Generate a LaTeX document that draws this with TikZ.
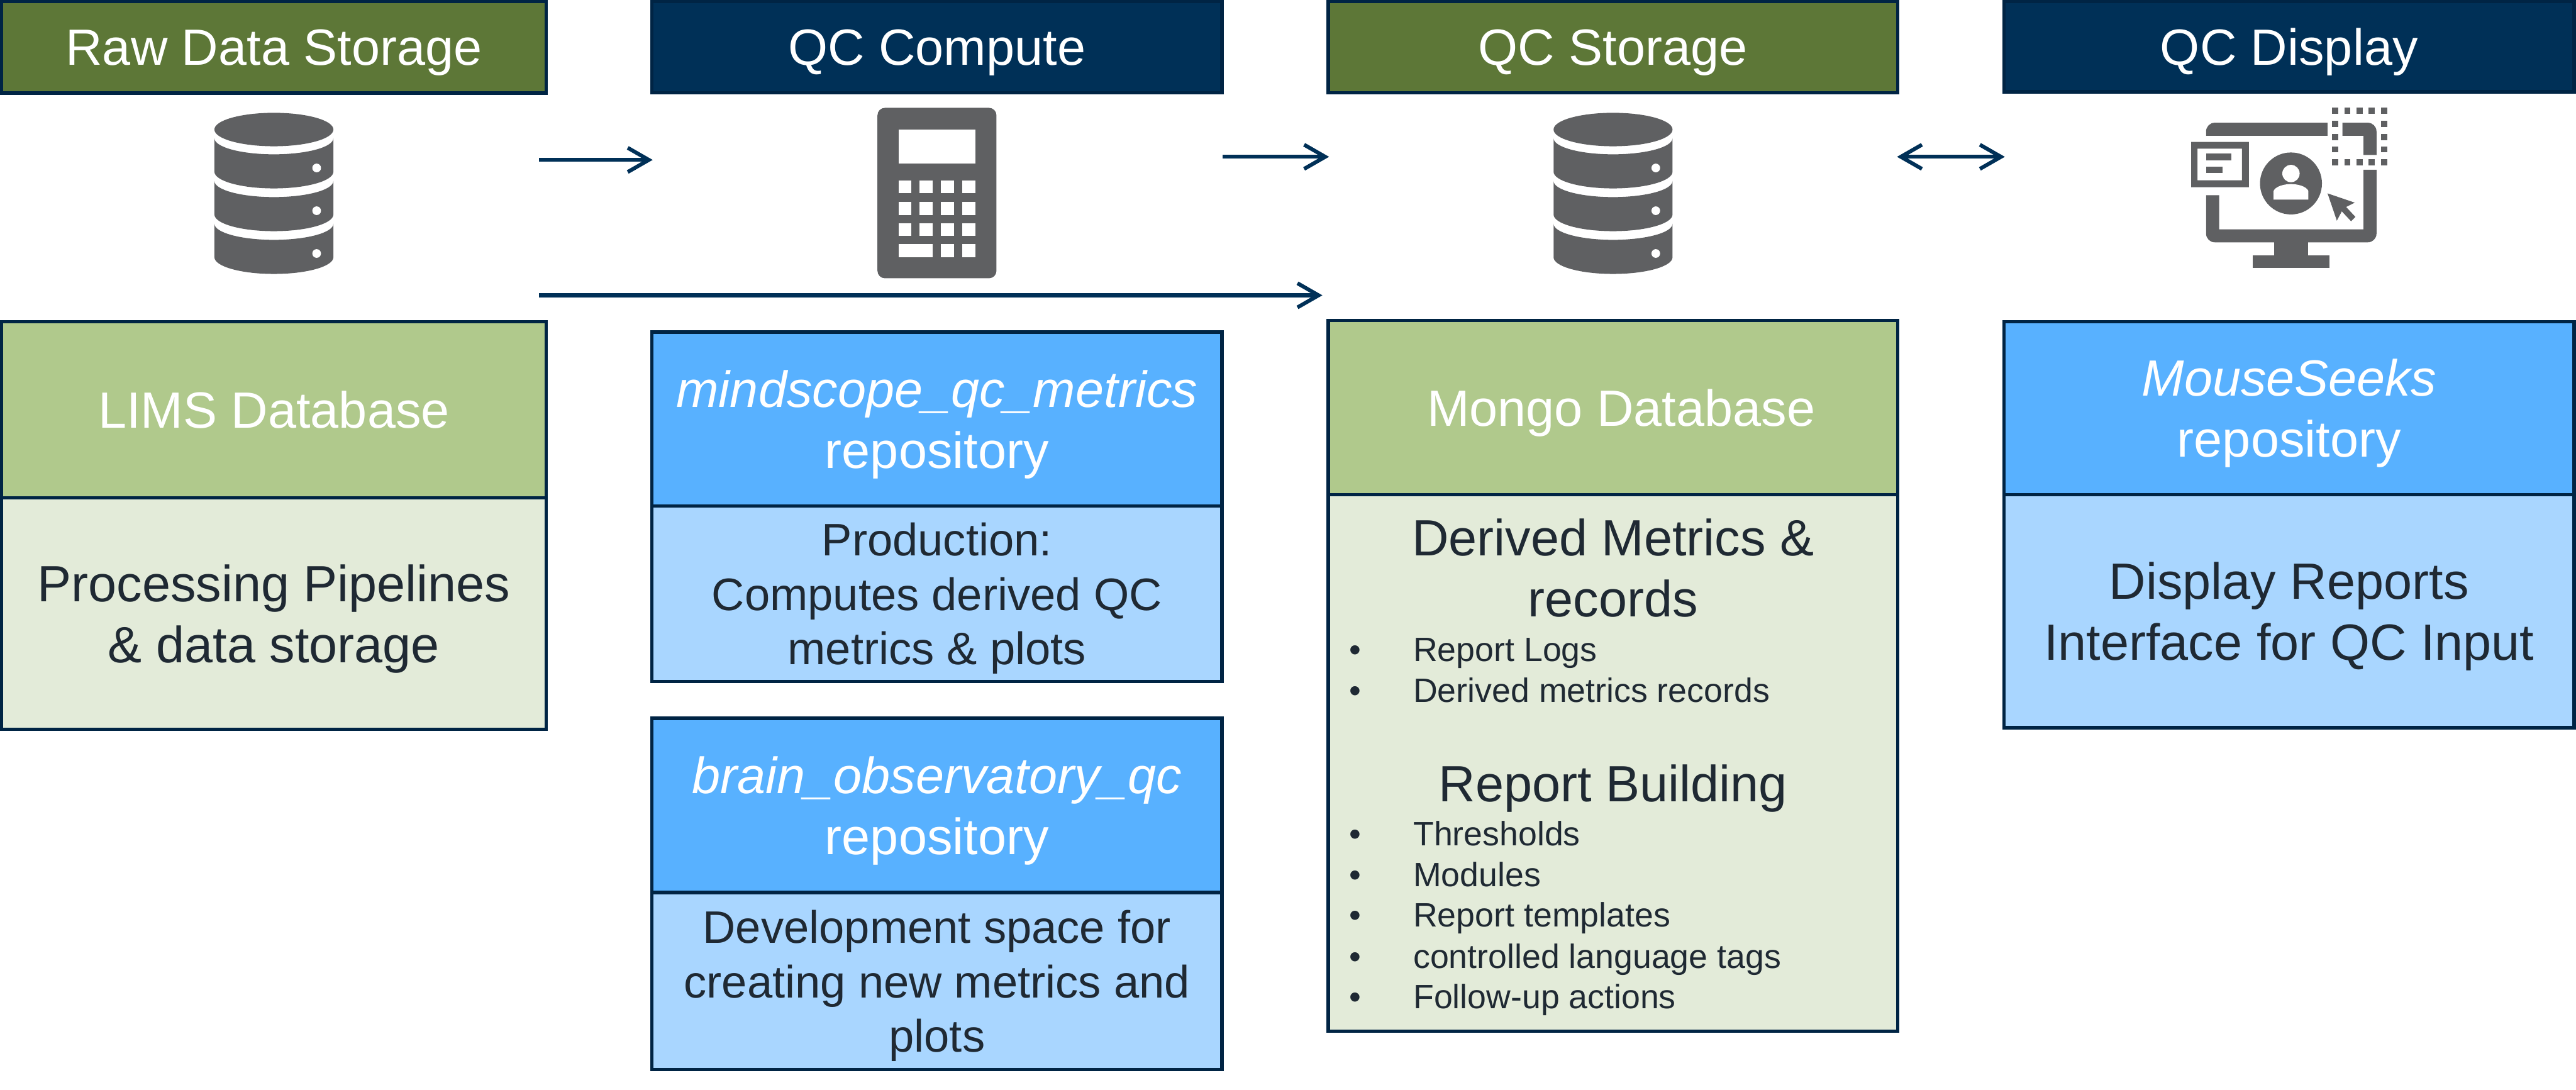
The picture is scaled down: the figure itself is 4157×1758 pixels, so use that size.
\documentclass[tikz,border=0pt]{standalone}
\usepackage{fontspec}
\setmainfont{Liberation Sans}
\usetikzlibrary{arrows.meta}
\definecolor{navy}{HTML}{003057}
\definecolor{edgenavy}{HTML}{002444}
\definecolor{moss}{HTML}{5D7737}
\definecolor{sage}{HTML}{B0C98C}
\definecolor{palesage}{HTML}{E3EBD9}
\definecolor{sky}{HTML}{58B1FF}
\definecolor{palesky}{HTML}{A9D6FF}
\definecolor{icongray}{HTML}{5F6062}
\definecolor{inktext}{HTML}{1F2933}
\begin{document}
\begin{tikzpicture}[x=0.1mm, y=-0.1mm,
    >={Straight Barb[length=3.4mm,width=3.9mm]},
    bigtext/.style={font=\fontsize{23.4}{28}\selectfont},
    panel/.style={draw=edgenavy, line width=0.55mm, inner sep=0pt, align=center, text depth=-1.5pt, bigtext},
    greenhead/.style={panel, fill=moss, text=white},
    navyhead/.style={panel, fill=navy, text=white},
    greentitle/.style={panel, fill=sage, text=white},
    bluetitle/.style={panel, fill=sky, text=white},
    greenbody/.style={panel, fill=palesage, text=inktext},
    bluebody/.style={panel, fill=palesky, text=inktext},
    tightlines/.style={font=\fontsize{20.9}{25}\selectfont},
    listhead/.style={text=inktext, inner sep=0pt, align=center, text depth=0pt, bigtext},
    listitem/.style={text=inktext, inner sep=0pt, anchor=base west, font=\fontsize{15.5}{18.7}\selectfont},
    flow/.style={->, draw=navy, line width=0.62mm, shorten >=-0.4mm},
    icon/.style={fill=icongray, draw=none}]
    \useasboundingbox (0,0) rectangle (4157,1758);

    % column headers
    \node[greenhead, minimum width=8.79cm, minimum height=1.48cm] (rawhead) at (442,76) {Raw Data Storage};
    \node[navyhead, minimum width=9.2cm, minimum height=1.47cm] (computehead) at (1512,76) {QC Compute};
    \node[greenhead, minimum width=9.19cm, minimum height=1.47cm] (storagehead) at (2603,76) {QC Storage};
    \node[navyhead, minimum width=9.2cm, minimum height=1.46cm] (displayhead) at (3694,75) {QC Display};

    % raw data column
    \node[greentitle, minimum width=8.79cm, minimum height=2.84cm] (limstitle) at (442,661) {LIMS Database};
    \node[greenbody, minimum width=8.79cm, minimum height=3.74cm] (limsbody) at (442,990) {Processing Pipelines\\\& data storage};

    % compute column
    \node[bluetitle, minimum width=9.2cm, minimum height=2.81cm] (metricstitle) at (1512,676.5) {\textit{mindscope\_qc\_metrics}\\repository};
    \node[bluebody, tightlines, minimum width=9.2cm, minimum height=2.83cm] (metricsbody) at (1512,958) {Production:\\Computes derived QC\\metrics \& plots};
    \node[bluetitle, minimum width=9.2cm, minimum height=2.81cm] (braintitle) at (1512,1299.5) {\textit{brain\_observatory\_qc}\\repository};
    \node[bluebody, tightlines, minimum width=9.2cm, minimum height=2.86cm] (brainbody) at (1512,1583) {Development space for\\creating new metrics and\\plots};

    % storage column
    \node[greentitle, minimum width=9.19cm, minimum height=2.81cm] (mongotitle) at (2603,657.5) {\hspace*{2.6mm}Mongo Database};
    \node[greenbody, minimum width=9.19cm, minimum height=8.66cm] (mongobody) at (2603,1231) {};
    \node[listhead] (derivedhead) at (2603,916) {Derived Metrics \&\\records};
    \node[listhead] (buildinghead) at (2603,1264) {Report Building};
    \foreach \itemy/\itemtext [count=\i] in {1067/Report Logs, 1133/Derived metrics records, 1364/Thresholds, 1430/Modules, 1495.5/Report templates, 1562/controlled language tags, 1627/Follow-up actions}
        \node[listitem] (item\i) at (2177,\itemy) {\makebox[1.03cm][l]{\textbullet}\itemtext};

    % display column
    \node[bluetitle, text depth=-3.5pt, minimum width=9.2cm, minimum height=2.79cm] (seekstitle) at (3694,658.5) {\textit{MouseSeeks}\\repository};
    \node[bluebody, minimum width=9.2cm, minimum height=3.76cm] (seeksbody) at (3694,986) {Display Reports\\Interface for QC Input};

    % database icons
    \foreach \iconx in {442, 2603} {
        \fill[icon] (\iconx,209) ellipse [x radius=96, y radius=27];
        \foreach \bandy in {0, 69, 138} {
            \fill[icon] (\iconx-96,223+\bandy) -- (\iconx-96,277+\bandy)
                arc [start angle=180, end angle=0, x radius=96, y radius=27]
                -- (\iconx+96,223+\bandy)
                arc [start angle=0, end angle=180, x radius=96, y radius=26] -- cycle;
            \fill[white] (\iconx+69,271+\bandy) circle [radius=7];
        }
    }

    % calculator icon
    \fill[icon, rounded corners=1.2mm] (1416,174) rectangle (1608,449);
    \fill[white] (1450,209) rectangle (1574,264);
    \foreach \keyy in {291, 326, 360} {
        \foreach \keyx in {1450, 1484, 1518.5, 1553}
            \fill[white] (\keyx,\keyy) rectangle +(21,21);
    }
    \fill[white] (1450,394) rectangle +(55,21);
    \foreach \keyx in {1518.5, 1553}
        \fill[white] (\keyx,394) rectangle +(21,21);

    % display icon
    \fill[icon] (3560,219) -- (3560,212) arc [start angle=180, end angle=270, radius=14] -- (3756,198) -- (3756,219) -- cycle;
    \fill[icon] (3780,198) -- (3821,198) arc [start angle=-90, end angle=0, radius=14] -- (3835,250) -- (3814,250) -- (3814,219) -- (3780,219) -- cycle;
    \fill[icon] (3560,315) -- (3581,315) -- (3581,370) -- (3814,370) -- (3814,274) -- (3835,274) -- (3835,377)
        arc [start angle=0, end angle=90, radius=14] -- (3574,391) arc [start angle=90, end angle=180, radius=14] -- cycle;
    \fill[icon] (3670,391) rectangle (3725,412);
    \fill[icon] (3635,412) rectangle (3759,432);
    \fill[icon, even odd rule] (3536,229) rectangle (3629,302) (3546,240) rectangle (3618,291);
    \fill[icon] (3560,248) rectangle (3601,259);
    \fill[icon] (3560,269) rectangle (3587,279);
    \fill[icon] (3697,296) circle [radius=50];
    \fill[white] (3697,280) circle [radius=14];
    \fill[white] (3669,322) -- (3669,308) .. controls (3672,301) and (3685,297) .. (3697,297)
        .. controls (3709,297) and (3722,301) .. (3725,308) -- (3725,322) -- cycle;
    \fill[icon] (3756,312) -- (3800,327) -- (3786,334) -- (3801,350) -- (3794,357) -- (3779,341) -- (3771,356) -- cycle;
    \foreach \dotx in {3763, 3783, 3803, 3822, 3842} {
        \fill[icon] (\dotx,174) rectangle +(10,10);
        \fill[icon] (\dotx,257) rectangle +(10,10);
    }
    \foreach \doty in {195, 216, 236} {
        \fill[icon] (3763,\doty) rectangle +(10,10);
        \fill[icon] (3842,\doty) rectangle +(10,10);
    }

    % connectors
    \coordinate (rawout) at (870,258);
    \coordinate (computeout) at (1973,253);
    \coordinate (directout) at (870,476.5);
    \coordinate (directin) at (2130,476.5);
    \draw[flow] (rawout) -- (computehead.west |- rawout);
    \draw[flow] (computeout) -- (storagehead.west |- computeout);
    \draw[flow] (directout) -- (directin);
    \draw[flow, <->, shorten <=-0.4mm] (storagehead.east |- computeout) -- (displayhead.west |- computeout);
\end{tikzpicture}
\end{document}
